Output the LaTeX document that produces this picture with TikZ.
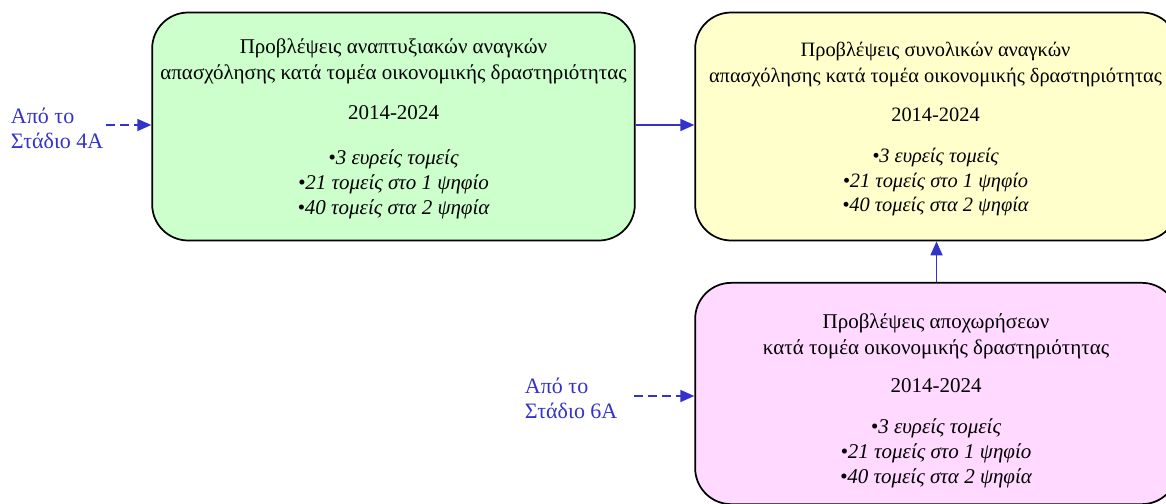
\documentclass[tikz,border=0pt]{standalone}
\usepackage{fontspec}
\setmainfont{Liberation Serif}
\usetikzlibrary{arrows.meta}
\definecolor{boxgreen}{HTML}{CCFFCC}
\definecolor{boxyellow}{HTML}{FFFFCC}
\definecolor{boxpink}{HTML}{FFD9FF}
\definecolor{flowblue}{HTML}{3333CC}
\tikzset{
  stagebox/.style={draw=black, line width=1.3pt, rounded corners=27pt,
    minimum width=362pt, minimum height=171pt, inner sep=0pt},
  stagetext/.style={align=center, inner sep=0pt,
    font=\fontsize{15.75}{19.5}\selectfont},
  flowarrow/.style={draw=flowblue, line width=1.4pt,
    -{Triangle[length=10.5pt,width=9pt]}},
  dashflow/.style={flowarrow, dash pattern=on 6.5pt off 4pt},
  srclabel/.style={text=flowblue, align=left, inner sep=2pt,
    font=\fontsize{16.5}{18.75}\selectfont},
}
\newcommand{\itl}[1]{{\itshape #1}}
\begin{document}
\begin{tikzpicture}[x=0.75pt,y=-0.75pt]
\useasboundingbox (0,0) rectangle (1166,503);
\clip (0,0) rectangle (1166,503);
% boxes
\node[stagebox, fill=boxgreen] (green) at (393.5,126.5) {};
\node[stagebox, fill=boxyellow] (yellow) at (936.5,126.5) {};
\node[stagebox, fill=boxpink, minimum height=166pt] (pink) at (936.5,393.5) {};
% texts
\node[stagetext] (greentxt) at (393.5,129) {%
  Προβλέψεις αναπτυξιακών αναγκών\\
  απασχόλησης κατά τομέα οικονομικής δραστηριότητας\\[10.5pt]
  2014-2024\\[14pt]
  \itl{•3 ευρείς τομείς}\\[-0.6pt]
  \itl{•21 τομείς στο 1 ψηφίο}\\[-0.6pt]
  \itl{•40 τομείς στα 2 ψηφία}};
\node[stagetext, font=\fontsize{15.3}{19.5}\selectfont] (yellowtxt) at (935.5,129) {%
  Προβλέψεις συνολικών αναγκών\\
  απασχόλησης κατά τομέα οικονομικής δραστηριότητας\\[9.75pt]
  2014-2024\\[11.25pt]
  \itl{•3 ευρείς τομείς}\\[-0.6pt]
  \itl{•21 τομείς στο 1 ψηφίο}\\[-1pt]
  \itl{•40 τομείς στα 2 ψηφία}};
\node[stagetext] (pinktxt) at (936,400.5) {%
  Προβλέψεις αποχωρήσεων\\
  κατά τομέα οικονομικής δραστηριότητας\\[9pt]
  2014-2024\\[11.25pt]
  \itl{•3 ευρείς τομείς}\\[-0.6pt]
  \itl{•21 τομείς στο 1 ψηφίο}\\[-1pt]
  \itl{•40 τομείς στα 2 ψηφία}};
% source labels
\node[srclabel, anchor=west] (l4) at (8,128) {Από το\\Στάδιο 4Α};
\node[srclabel, anchor=west] (l6) at (522,398) {Από το\\Στάδιο 6Α};
\coordinate (l4s) at (106,125);
\coordinate (l6s) at (634,396);
% connectors
\draw[dashflow] (l4s) -- (l4s -| green.west);
\draw[dashflow] (l6s) -- (l6s -| pink.west);
\draw[flowarrow] (green.east |- 0,125) -- (yellow.west |- 0,125);
\draw[flowarrow] (pink) -- (yellow);
\end{tikzpicture}
\end{document}
